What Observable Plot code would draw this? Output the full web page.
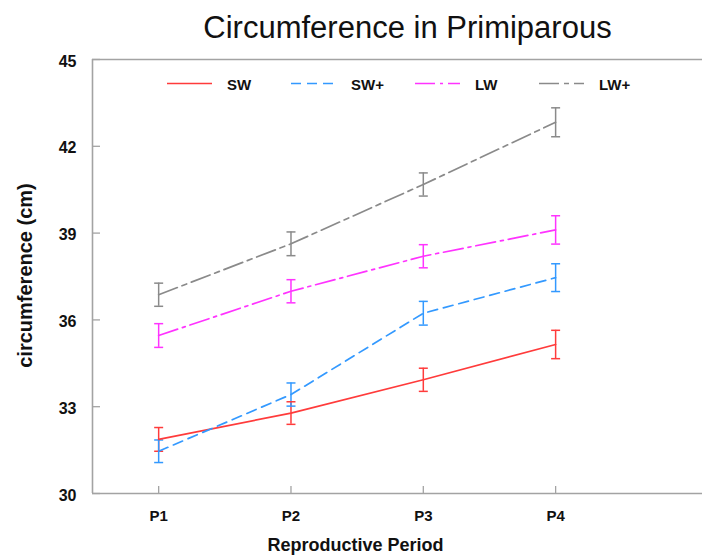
<!DOCTYPE html>
<html>
<head>
<meta charset="utf-8">
<script src="https://cdn.jsdelivr.net/npm/d3@7"></script>
<script src="https://cdn.jsdelivr.net/npm/@observablehq/plot@0.6"></script>
<style>
  html, body { margin: 0; padding: 0; background: #fff; }
  #chart svg { display: block; }
</style>
</head>
<body>
<div id="chart"></div>
<script>
// Mean circumference (cm) by reproductive period, with error bars
const periods = ["P1", "P2", "P3", "P4"];
const seriesNames = ["SW", "SW+", "LW", "LW+"];
const seriesColors = ["#ff3b3b", "#3399ff", "#ff33ff", "#8a8a8a"];
const seriesDash = [null, "10,6", "20,5,3,5", "20,5,5,5"];

const swValues     = [31.87, 32.78, 33.93, 35.15];
const swPlusValues = [31.46, 33.42, 36.23, 37.46];
const lwValues     = [35.46, 36.99, 38.20, 39.11];
const lwPlusValues = [36.87, 38.63, 40.68, 42.83];

const swErr     = [0.41, 0.39, 0.40, 0.49];
const swPlusErr = [0.39, 0.40, 0.41, 0.48];
const lwErr     = [0.41, 0.40, 0.40, 0.49];
const lwPlusErr = [0.40, 0.41, 0.40, 0.50];

const yTicks = [30, 33, 36, 39, 42, 45];

const valueSets = [swValues, swPlusValues, lwValues, lwPlusValues];
const errSets = [swErr, swPlusErr, lwErr, lwPlusErr];

const rows = seriesNames.flatMap((name, s) =>
  periods.map((label, i) => ({
    series: name,
    p: i + 1,
    label,
    v: valueSets[s][i],
    e: errSets[s][i]
  }))
);

const font = "'Liberation Sans', Arial, Helvetica, sans-serif";
const frameColor = "#a3a3a3";

// horizontal dash used for the error-bar caps
const capSymbol = {
  draw(ctx, size) {
    const r = Math.sqrt(size / Math.PI);
    ctx.moveTo(-r, 0);
    ctx.lineTo(r, 0);
  }
};

const lineMarks = seriesNames.map((name, s) =>
  Plot.line(rows.filter(d => d.series === name), {
    x: "p", y: "v",
    stroke: seriesColors[s],
    strokeWidth: 1.7,
    strokeDasharray: seriesDash[s] || undefined
  })
);

const plot = Plot.plot({
  width: 702,
  height: 557,
  marginLeft: 92,
  marginRight: 0,
  marginTop: 59,
  marginBottom: 64,
  style: { fontFamily: font, background: "#fff", color: "#111" },
  x: { type: "linear", domain: [0.5, 5.11] },
  y: { domain: [30, 45] },
  color: { domain: seriesNames, range: seriesColors },
  marks: [
    // frame: left, top, bottom
    Plot.ruleX([0.5], { stroke: frameColor, strokeWidth: 1.6 }),
    Plot.ruleY([30, 45], { stroke: frameColor, strokeWidth: 1.6 }),
    // inward tick marks
    Plot.ruleY(yTicks, { stroke: frameColor, strokeWidth: 1.3, insetRight: 602 }),
    Plot.ruleX([1, 2, 3, 4], { stroke: frameColor, strokeWidth: 1.3, insetTop: 427 }),
    Plot.axisY({
      ticks: yTicks, tickSize: 0, tickPadding: 16, dy: 2,
      fontSize: 16, fontWeight: "bold", label: null
    }),
    Plot.axisX({
      ticks: [1, 2, 3, 4], tickFormat: d => periods[d - 1],
      tickSize: 0, tickPadding: 17,
      fontSize: 15, fontWeight: "bold", label: null
    }),
    // error bars
    Plot.ruleX(rows, {
      x: "p", y1: d => d.v - d.e, y2: d => d.v + d.e,
      stroke: "series", strokeWidth: 1.5
    }),
    Plot.dot(rows, { x: "p", y: d => d.v + d.e, symbol: capSymbol, r: 4.5, stroke: "series", strokeWidth: 1.5 }),
    Plot.dot(rows, { x: "p", y: d => d.v - d.e, symbol: capSymbol, r: 4.5, stroke: "series", strokeWidth: 1.5 }),
    ...lineMarks,
    // titles
    Plot.text(["Circumference in Primiparous"], {
      frameAnchor: "top", lineAnchor: "top", dx: 10, dy: -44,
      fontSize: 31, fill: "#111"
    }),
    Plot.text(["Reproductive Period"], {
      frameAnchor: "bottom", lineAnchor: "top", dx: -42, dy: 45,
      fontSize: 18, fontWeight: "bold", fill: "#111"
    }),
    Plot.text(["circumference (cm)"], {
      frameAnchor: "left", rotate: -90, textAnchor: "middle", lineAnchor: "middle",
      dx: -67, dy: -1,
      fontSize: 20, fontWeight: "bold", fill: "#111"
    })
  ]
});

// legend row inside the plot area
const svg = d3.select(plot);
const legend = svg.append("g").attr("class", "legend").attr("text-anchor", "start");
seriesNames.forEach((name, s) => {
  const x0 = 167 + s * 124;
  legend.append("line")
    .attr("x1", x0).attr("x2", x0 + 45)
    .attr("y1", 83.5).attr("y2", 83.5)
    .attr("stroke", seriesColors[s])
    .attr("stroke-width", 1.7)
    .attr("stroke-dasharray", seriesDash[s]);
  legend.append("text")
    .attr("x", x0 + 60).attr("y", 89.5)
    .attr("text-anchor", "start")
    .attr("font-family", font)
    .attr("font-size", 15)
    .attr("font-weight", "bold")
    .attr("fill", "#111")
    .text(name);
});

document.getElementById("chart").append(plot);
</script>
</body>
</html>
